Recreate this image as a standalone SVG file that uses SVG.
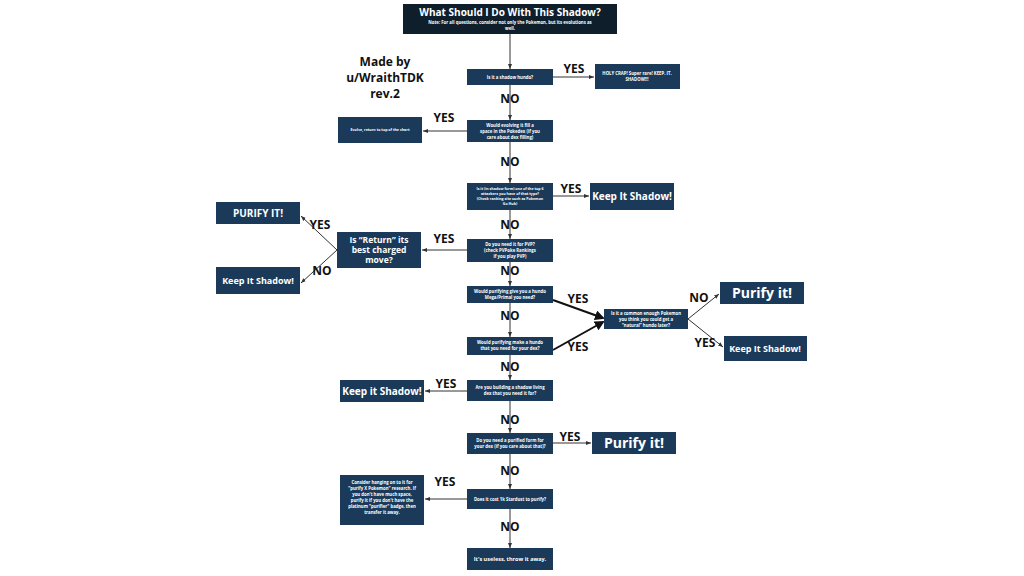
<svg xmlns="http://www.w3.org/2000/svg" width="1024" height="576" viewBox="0 0 1024 576">
<style>
.b{fill:#1b3a5a}
.t{fill:#fff;font-family:"Open Sans","Liberation Sans",sans-serif;font-weight:bold;text-anchor:middle}
.s{font-size:4.3px}
.m{font-size:10px}
.l{font-size:14px}
.lb{font-family:"Open Sans","Liberation Sans",sans-serif;font-weight:bold;font-size:12px;fill:#111;text-anchor:middle}
.c{stroke:#333;stroke-width:1;fill:none;marker-end:url(#a)}
.k{stroke:#111;stroke-width:2;fill:none;marker-end:url(#a2)}
</style>
<defs>
<marker id="a" markerWidth="6" markerHeight="6" refX="5" refY="3" orient="auto"><path d="M0,1 L5,3 L0,5z" fill="#333"/></marker>
<marker id="a2" markerWidth="5" markerHeight="5" refX="4" refY="2.5" orient="auto"><path d="M0,0 L5,2.5 L0,5z" fill="#111"/></marker>
</defs>
<rect width="1024" height="576" fill="#fff"/>
<g id="connectors">
<path class="c" d="M510,34V69"/>
<path class="c" d="M553,77H594"/>
<path class="c" d="M510,85V120"/>
<path class="c" d="M467,131H423"/>
<path class="c" d="M510,142V183"/>
<path class="c" d="M553,196H589"/>
<path class="c" d="M510,210V239"/>
<path class="c" d="M467,250H422"/>
<path class="c" d="M337,250L301,216"/>
<path class="c" d="M337,250L301,283"/>
<path class="c" d="M510,262V286"/>
<path class="k" d="M553,300L603,318"/>
<path class="k" d="M553,350L603,322"/>
<path class="c" d="M688,319L719,294"/>
<path class="c" d="M688,319L723,347"/>
<path class="c" d="M510,303V337"/>
<path class="c" d="M510,355V380"/>
<path class="c" d="M467,391H425"/>
<path class="c" d="M510,401V433"/>
<path class="c" d="M553,443H591"/>
<path class="c" d="M510,454V489"/>
<path class="c" d="M467,499H425"/>
<path class="c" d="M510,509V548"/>
</g>
<g class="lb">
<text x="574" y="73">YES</text><text x="510" y="103">NO</text>
<text x="444" y="122">YES</text><text x="510" y="166">NO</text>
<text x="571" y="193">YES</text><text x="510" y="229">NO</text>
<text x="444" y="243">YES</text><text x="320" y="229">YES</text><text x="322" y="275">NO</text>
<text x="510" y="275">NO</text>
<text x="578" y="303">YES</text><text x="510" y="320">NO</text><text x="578" y="351">YES</text>
<text x="699" y="302">NO</text><text x="705" y="347">YES</text>
<text x="510" y="371">NO</text>
<text x="446" y="388">YES</text><text x="510" y="424">NO</text>
<text x="570" y="441">YES</text><text x="510" y="475">NO</text>
<text x="445" y="486">YES</text><text x="510" y="531">NO</text>
</g>
<g id="credit"><text class="lb" x="385" y="66">Made by</text><text class="lb" x="385" y="82">u/WraithTDK</text><text class="lb" x="385" y="98">rev.2</text></g>
<g id="title"><rect x="403" y="4" width="214" height="30" fill="#0e1e2b"/>
<text class="t" x="510" y="16" font-size="10">What Should I Do With This Shadow?</text>
<text class="t s" x="510" y="24">Note: For all questions, consider not only the Pokemon, but its evolutions as</text>
<text class="t s" x="510" y="30">well.</text></g>
<g id="n1"><rect class="b" x="467" y="69" width="86" height="16"/><text class="t s" x="510" y="79">Is it a shadow hundo?</text></g>
<g id="n2"><rect class="b" x="595" y="64" width="85" height="25"/><text class="t s" x="637" y="75">HOLY CRAP! Super rare! KEEP. IT.</text><text class="t s" x="637" y="81">SHADOW!!!</text></g>
<g id="n3"><rect class="b" x="467" y="120" width="86" height="22"/><text class="t s" x="510" y="127">Would evolving it fill a</text><text class="t s" x="510" y="133">space in the Pokedex (if you</text><text class="t s" x="510" y="139">care about dex filling)</text></g>
<g id="n4"><rect class="b" x="338" y="117" width="84" height="26"/><text class="t" font-size="3.6" x="380" y="131">Evolve, return to top of the chart</text></g>
<g id="n5"><rect class="b" x="467" y="183" width="86" height="27"/><text class="t" font-size="3.6" x="510" y="190">Is it (in shadow form) one of the top 6</text><text class="t" font-size="3.6" x="510" y="195">attackers you have of that type?</text><text class="t" font-size="3.6" x="510" y="200">(Check ranking site such as Pokemon</text><text class="t" font-size="3.6" x="510" y="205">Go Hub)</text></g>
<g id="n6"><rect class="b" x="590" y="183" width="84" height="27"/><text class="t m" x="632" y="200">Keep It Shadow!</text></g>
<g id="n7"><rect class="b" x="467" y="239" width="86" height="23"/><text class="t s" x="510" y="246">Do you need it for PVP?</text><text class="t s" x="510" y="252">(check PVPoke Rankings</text><text class="t s" x="510" y="258">if you play PVP)</text></g>
<g id="n8"><rect class="b" x="337" y="232" width="84" height="36"/><text class="t" font-size="8.5" x="379" y="243">Is “Return” its</text><text class="t" font-size="8.5" x="379" y="253">best charged</text><text class="t" font-size="8.5" x="379" y="263">move?</text></g>
<g id="n9"><rect class="b" x="216" y="202" width="84" height="22"/><text class="t m" x="258" y="217">PURIFY IT!</text></g>
<g id="n10"><rect class="b" x="216" y="267" width="84" height="27"/><text class="t" font-size="9" x="258" y="284">Keep It Shadow!</text></g>
<g id="n11"><rect class="b" x="467" y="286" width="86" height="17"/><text class="t s" x="510" y="293">Would purifying give you a hundo</text><text class="t s" x="510" y="299">Mega/Primal you need?</text></g>
<g id="n12"><rect class="b" x="604" y="309" width="84" height="20"/><text class="t s" x="646" y="315">Is it a common enough Pokemon</text><text class="t s" x="646" y="321">you think you could get a</text><text class="t s" x="646" y="327">“natural” hundo later?</text></g>
<g id="n13"><rect class="b" x="720" y="282" width="84" height="22"/><text class="t l" x="762" y="298">Purify it!</text></g>
<g id="n14"><rect class="b" x="724" y="336" width="83" height="25"/><text class="t" font-size="9" x="765" y="352">Keep It Shadow!</text></g>
<g id="n15"><rect class="b" x="467" y="337" width="86" height="18"/><text class="t s" x="510" y="344">Would purifying make a hundo</text><text class="t s" x="510" y="350">that you need for your dex?</text></g>
<g id="n16"><rect class="b" x="340" y="380" width="84" height="22"/><text class="t m" x="382" y="395">Keep it Shadow!</text></g>
<g id="n17"><rect class="b" x="467" y="380" width="86" height="21"/><text class="t s" x="510" y="389">Are you building a shadow living</text><text class="t s" x="510" y="395">dex that you need it for?</text></g>
<g id="n18"><rect class="b" x="467" y="433" width="86" height="21"/><text class="t s" x="510" y="442">Do you need a purified form for</text><text class="t s" x="510" y="448">your dex (if you care about that)?</text></g>
<g id="n19"><rect class="b" x="592" y="432" width="84" height="22"/><text class="t l" x="634" y="448">Purify it!</text></g>
<g id="n20"><rect class="b" x="340" y="475" width="84" height="50"/><text class="t s" x="382" y="484">Consider hanging on to it for</text><text class="t s" x="382" y="490">"purify X Pokemon" research. If</text><text class="t s" x="382" y="496">you don't have much space,</text><text class="t s" x="382" y="502">purify it if you don't have the</text><text class="t s" x="382" y="508">platinum "purifier" badge, then</text><text class="t s" x="382" y="514">transfer it away.</text></g>
<g id="n21"><rect class="b" x="467" y="489" width="86" height="20"/><text class="t s" x="510" y="501">Does it cost 1k Stardust to purify?</text></g>
<g id="n22"><rect class="b" x="467" y="548" width="86" height="22"/><text class="t" font-size="5.5" font-weight="normal" x="510" y="561">It's useless, throw it away.</text></g>
</svg>
